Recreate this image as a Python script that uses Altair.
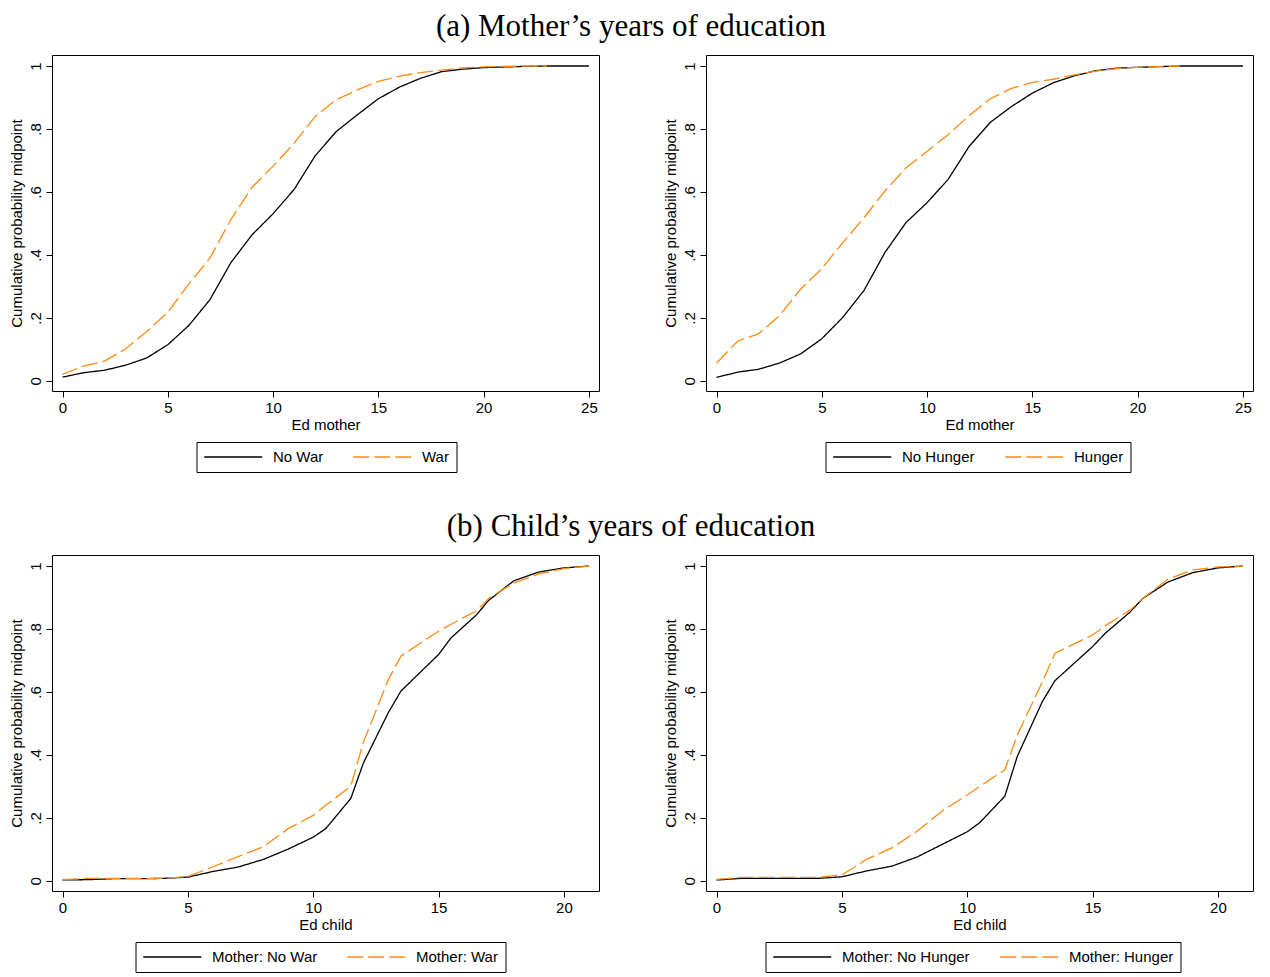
import altair as alt
import pandas as pd

# ---------------- data ----------------
ed_mother_x = list(range(26))
mother_nowar = [0.012, 0.026, 0.034, 0.050, 0.073, 0.115, 0.176, 0.258, 0.376, 0.464, 0.531,
                0.608, 0.715, 0.792, 0.845, 0.896, 0.933, 0.961, 0.982, 0.990, 0.995, 0.997,
                0.999, 1.0, 1.0, 1.0]
mother_war = [0.021, 0.047, 0.063, 0.102, 0.157, 0.218, 0.308, 0.390, 0.513, 0.615, 0.682,
              0.755, 0.840, 0.893, 0.924, 0.951, 0.968, 0.979, 0.987, 0.994, 0.997, 0.999,
              1.0, 1.0]
mother_nohunger = [0.011, 0.028, 0.037, 0.057, 0.086, 0.134, 0.202, 0.287, 0.408, 0.503, 0.566,
                   0.640, 0.745, 0.821, 0.871, 0.914, 0.947, 0.969, 0.985, 0.993, 0.996, 0.998,
                   1.0, 1.0, 1.0, 1.0]
mother_hunger = [0.057, 0.126, 0.150, 0.208, 0.292, 0.357, 0.439, 0.518, 0.603, 0.677, 0.729,
                 0.782, 0.843, 0.896, 0.929, 0.948, 0.958, 0.972, 0.984, 0.992, 0.996, 0.998,
                 1.0]

ed_child_x = [0, 1, 2, 3, 4, 5, 6, 7, 8, 9, 10, 10.5, 11.5, 12, 13, 13.5, 15, 15.5, 16.5, 17,
              18, 19, 20, 21]
child_nowar = [0.003, 0.004, 0.007, 0.007, 0.008, 0.012, 0.030, 0.044, 0.068, 0.101, 0.139,
               0.166, 0.262, 0.374, 0.535, 0.603, 0.719, 0.772, 0.844, 0.891, 0.953, 0.981,
               0.994, 1.0]
child_war = [0.004, 0.008, 0.008, 0.008, 0.008, 0.014, 0.045, 0.077, 0.108, 0.166, 0.208,
             0.240, 0.301, 0.440, 0.640, 0.714, 0.793, 0.815, 0.857, 0.897, 0.946, 0.975,
             0.992, 1.0]
child_nohunger = [0.003, 0.008, 0.008, 0.008, 0.008, 0.013, 0.032, 0.047, 0.076, 0.116, 0.156,
                  0.185, 0.269, 0.396, 0.570, 0.636, 0.744, 0.786, 0.854, 0.897, 0.949, 0.979,
                  0.994, 1.0]
child_hunger = [0.005, 0.011, 0.011, 0.011, 0.011, 0.019, 0.069, 0.105, 0.158, 0.222, 0.273,
                0.300, 0.353, 0.464, 0.633, 0.723, 0.781, 0.810, 0.860, 0.897, 0.958, 0.988,
                0.997, 1.0]

y_ticks = [0, 0.2, 0.4, 0.6, 0.8, 1]
mother_ticks = [0, 5, 10, 15, 20, 25]
child_ticks = [0, 5, 10, 15, 20]

BLACK = "#000000"
ORANGE = "#ff8a10"
FONT = "Liberation Sans"
SERIF = "Liberation Serif"

W, H = 547, 336


def make_df(x_a, y_a, lab_a, x_b, y_b, lab_b):
    rows = [{"x": x, "y": y, "g": lab_a, "o": 0} for x, y in zip(x_a, y_a)]
    rows += [{"x": x, "y": y, "g": lab_b, "o": 1} for x, y in zip(x_b, y_b)]
    return pd.DataFrame(rows)


def panel(df, labels, xdomain, xticks, xtitle, legx):
    # long, flat legend line: a wide custom path drawn at a small symbol size
    legend = alt.Legend(
        title=None, orient="none", legendX=legx, legendY=387, direction="horizontal",
        symbolType="M-4,0H4", symbolSize=210.25, symbolStrokeWidth=1.3,
        symbolOffset=21.75, labelOffset=31.75,
        labelFont=FONT, labelFontSize=15, labelColor="black",
        columnPadding=27, padding=7, strokeColor="black", fillColor="white",
        labelLimit=300,
    )
    return alt.Chart(df).mark_line(strokeWidth=1.3, clip=True).encode(
        x=alt.X("x:Q", scale=alt.Scale(domain=xdomain, nice=False, zero=False),
                axis=alt.Axis(values=xticks, title=xtitle, format="d")),
        y=alt.Y("y:Q", scale=alt.Scale(domain=[-0.032, 1.035], nice=False, zero=False),
                axis=alt.Axis(values=y_ticks, title="Cumulative probability midpoint",
                              labelAngle=-90, labelAlign="center", labelBaseline="bottom",
                              labelExpr="datum.value == 0 ? '0' : datum.value == 1 ? '1' : replace(format(datum.value, '.1f'), '0.', '.')")),
        color=alt.Color("g:N", scale=alt.Scale(domain=labels, range=[BLACK, ORANGE]), legend=legend),
        strokeDash=alt.StrokeDash("g:N", scale=alt.Scale(domain=labels, range=[[1, 0], [16, 5]]), legend=legend),
        order="o:Q",
    ).properties(width=W, height=H)


p1 = panel(make_df(ed_mother_x, mother_nowar, "No War", ed_mother_x[:24], mother_war, "War"),
           ["No War", "War"], [-0.5, 25.48], mother_ticks, "Ed mother", 144.5)
p2 = panel(make_df(ed_mother_x, mother_nohunger, "No Hunger", ed_mother_x[:23], mother_hunger, "Hunger"),
           ["No Hunger", "Hunger"], [-0.5, 25.48], mother_ticks, "Ed mother", 119.5)
p3 = panel(make_df(ed_child_x, child_nowar, "Mother: No War", ed_child_x, child_war, "Mother: War"),
           ["Mother: No War", "Mother: War"], [-0.42, 21.4], child_ticks, "Ed child", 83.5)
p4 = panel(make_df(ed_child_x, child_nohunger, "Mother: No Hunger", ed_child_x, child_hunger, "Mother: Hunger"),
           ["Mother: No Hunger", "Mother: Hunger"], [-0.42, 21.4], child_ticks, "Ed child", 59.5)

title_style = dict(font=SERIF, fontSize=31, fontWeight="normal", anchor="middle", color="black",
                   offset=11.5)

row_a = alt.hconcat(p1, p2, spacing=62,
                    title=alt.Title("(a) Mother’s years of education", **title_style)
                    ).resolve_scale(color="independent", strokeDash="independent")
row_b = alt.hconcat(p3, p4, spacing=62,
                    title=alt.Title("(b) Child’s years of education", **title_style)
                    ).resolve_scale(color="independent", strokeDash="independent")

chart = alt.vconcat(row_a, row_b, spacing=38).resolve_scale(
    color="independent", strokeDash="independent"
).properties(padding={"top": 3, "left": 0, "right": 0, "bottom": 0}).configure_view(
    stroke="black", strokeWidth=1
).configure_axis(
    domain=False, grid=False, ticks=True, tickSize=6, tickColor="black", tickWidth=1,
    labelFont=FONT, labelFontSize=15, labelColor="black", labelPadding=3,
    titleFont=FONT, titleFontSize=15, titleColor="black", titleFontWeight="normal",
).configure_axisX(titlePadding=2).configure_axisY(titlePadding=4)

chart.save("out.html", embed_options={"renderer": "svg", "actions": False})
